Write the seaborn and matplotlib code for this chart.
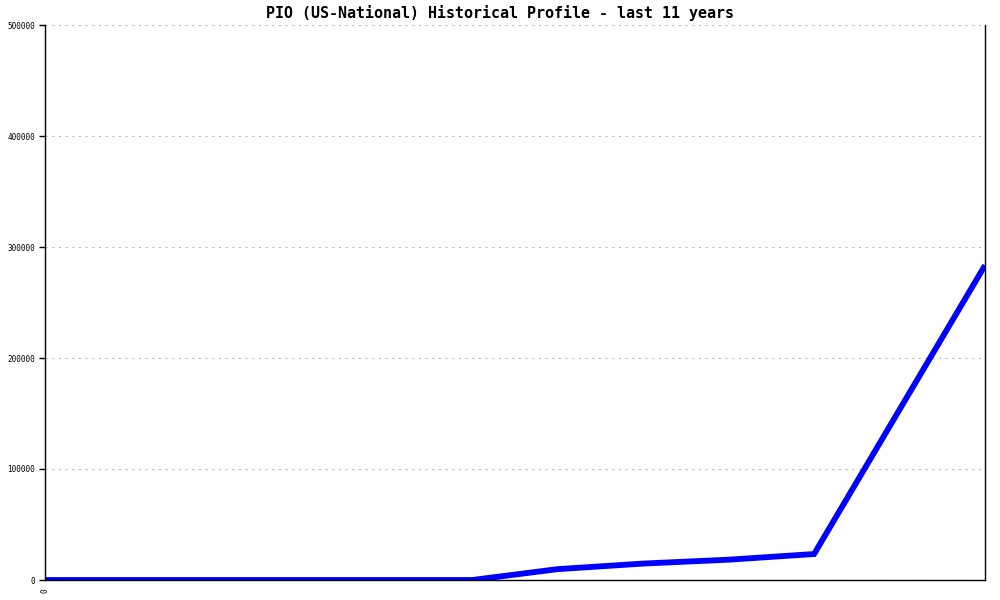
import matplotlib
matplotlib.use("Agg")
import matplotlib.pyplot as plt
import seaborn as sns
import pandas as pd

# dati (12 punti, ultimi 11 anni)
years_idx = [0, 1, 2, 3, 4, 5, 6, 7, 8, 9, 10, 11]
values = [0, 0, 0, 0, 0, 0, 9800, 14800, 18300, 23400, 153500, 283500]
y_ticks = [0, 100000, 200000, 300000, 400000, 500000]
x_tick_labels = ["0"]

title = "PIO (US-National) Historical Profile - last 11 years"

df = pd.DataFrame({"idx": years_idx, "value": values})

sns.set_style("white")
plt.rcParams['font.family'] = ['DejaVu Sans Mono', 'DejaVu Sans']
plt.rcParams['text.color'] = 'black'
plt.rcParams['xtick.color'] = 'black'
plt.rcParams['ytick.color'] = 'black'

fig = plt.figure(figsize=(10, 6), dpi=100)
ax = fig.add_axes([0.045, 1 - 580 / 600, 0.94, 555 / 600])

sns.lineplot(data=df, x="idx", y="value", ax=ax, color="#0000ff",
             linewidth=4.2, solid_capstyle="butt", solid_joinstyle="miter")

ax.set_xlim(0, 11)
ax.set_ylim(0, 500000)
ax.set_yticks(y_ticks)
ax.set_yticklabels([str(v) for v in y_ticks], fontsize=5.5, color="black")
ax.set_xticks([0])
ax.set_xticklabels(x_tick_labels, rotation=90, fontsize=5.5, color="black")
ax.set_xlabel("")
ax.set_ylabel("")

# griglia tratteggiata orizzontale
ax.yaxis.grid(True, color="#bbbbbb", linestyle=(0, (2, 4)), linewidth=0.8)
ax.xaxis.grid(False)

for side in ["left", "right", "bottom"]:
    ax.spines[side].set_visible(True)
    ax.spines[side].set_color("black")
    ax.spines[side].set_linewidth(1.0)
ax.spines["top"].set_visible(False)

ax.tick_params(axis="y", direction="out", length=4, width=1, color="black", pad=3, left=True)
ax.tick_params(axis="x", length=0, pad=6)

fig.text(0.5, 1 - 13 / 600, title, ha="center", va="center",
         fontsize=10.8, color="black", fontweight="semibold")

fig.savefig("out.png", dpi=100)
plt.close(fig)
